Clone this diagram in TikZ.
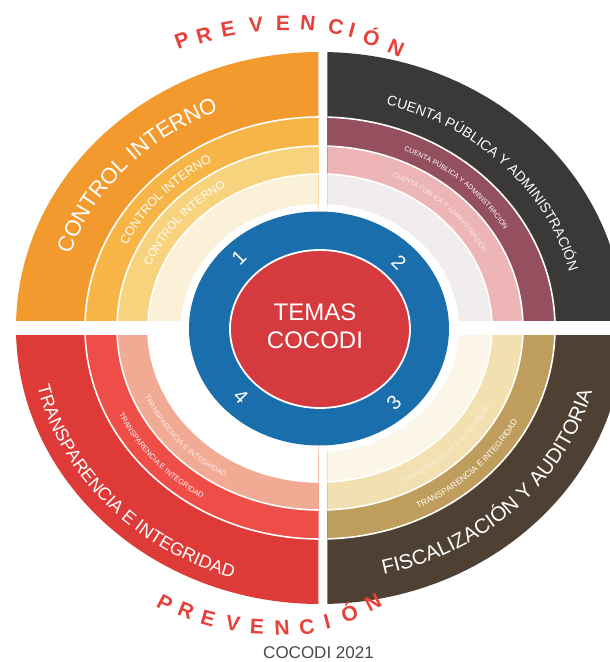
\documentclass[tikz,border=0pt]{standalone}
\usepackage{fontspec}
\setmainfont{Liberation Sans}
\usetikzlibrary{decorations.text}
\definecolor{tlA}{HTML}{F39A2E}
\definecolor{tlB}{HTML}{F6B546}
\definecolor{tlC}{HTML}{F8D37E}
\definecolor{tlD}{HTML}{FBF1D9}
\definecolor{trA}{HTML}{3B3838}
\definecolor{trB}{HTML}{94505E}
\definecolor{trC}{HTML}{EDB5B5}
\definecolor{trD}{HTML}{F1EDED}
\definecolor{blA}{HTML}{DE3B38}
\definecolor{blB}{HTML}{EE4E47}
\definecolor{blC}{HTML}{F1AA94}
\definecolor{blD}{HTML}{FFFFFF}
\definecolor{brA}{HTML}{4E4133}
\definecolor{brB}{HTML}{BF9D5C}
\definecolor{brC}{HTML}{F2E0B0}
\definecolor{brD}{HTML}{FBF6E8}
\definecolor{ringblue}{HTML}{1A6EAC}
\definecolor{corered}{HTML}{D53A3F}
\definecolor{prevred}{HTML}{E8413B}
\definecolor{capgray}{HTML}{4A4A4A}
\newcommand\myquad[6]{%
  \begin{scope}
    \clip #1 rectangle #2;
    \fill[#3] (0,0) ellipse [x radius=304, y radius=276];
    \fill[#4] (0,0) ellipse [x radius=235, y radius=211];
    \fill[#5] (0,0) ellipse [x radius=203, y radius=182];
    \fill[#6] (0,0) ellipse [x radius=172, y radius=154];
    \fill[white] (0,0) ellipse [x radius=139, y radius=124];
    \draw[sepline] (0,0) ellipse [x radius=235, y radius=211];
    \draw[sepline] (0,0) ellipse [x radius=203, y radius=182];
    \draw[sepline] (0,0) ellipse [x radius=172, y radius=154];
  \end{scope}}
\newcommand\arctext[7]{%
  \path[decorate, decoration={text along path, text align=center, text color=#6,
    text={|\fontsize{#5}{#5}\selectfont|#7}}]
    (#1:#3 and #4) arc[start angle=#1, end angle=#2, x radius=#3, y radius=#4];}
\begin{document}
\begin{tikzpicture}[x=1pt,y=1pt,
  sepline/.style={draw=white, line width=1.6},
  num/.style={text=white, font=\fontsize{20}{20}\selectfont, inner sep=0pt},
  prevletter/.style={text=prevred, font=\bfseries\fontsize{21}{21}\selectfont, inner sep=0pt},
  captext/.style={text=capgray, font=\fontsize{17}{17}\selectfont, inner sep=0pt},
  coretext/.style={text=white, font=\fontsize{24}{28}\selectfont, align=center, inner sep=0pt}]
\useasboundingbox (-320,-334) rectangle (290,328);
\fill[white] (-320,-334) rectangle (290,328);
% quadrants
\myquad{(-330,7.5)}{(-1.5,340)}{tlA}{tlB}{tlC}{tlD}
\myquad{(7.5,7.5)}{(330,340)}{trA}{trB}{trC}{trD}
\myquad{(-330,-7.5)}{(-1.5,-340)}{blA}{blB}{blC}{blD}
\myquad{(7.5,-7.5)}{(330,-340)}{brA}{brB}{brC}{brD}
% band texts
\arctext{178}{98}{263}{235}{22}{white}{CONTROL INTERNO}
\arctext{170}{106}{214}{192}{12.5}{white}{CONTROL INTERNO}
\arctext{172}{108}{183}{164}{11.5}{white}{CONTROL INTERNO}
\arctext{86}{2}{257}{231}{14}{white}{CUENTA PÚBLICA Y ADMINISTRACIÓN}
\arctext{85}{11}{214}{193}{7}{white}{CUENTA PÚBLICA Y ADMINISTRACIÓN}
\arctext{85}{7}{183}{165}{6.5}{white!75!trC}{CUENTA PÚBLICA Y ADMINISTRACIÓN}
\arctext{177}{267}{290}{262}{18}{white}{TRANSPARENCIA E INTEGRIDAD}
\arctext{185}{257}{223}{201}{7.5}{white}{TRANSPARENCIA E INTEGRIDAD}
\arctext{185}{257}{191}{172}{7.3}{white!80!blC}{TRANSPARENCIA E INTEGRIDAD}
\arctext{-90}{0}{281}{253}{20.5}{white}{FISCALIZACIÓN Y AUDITORIA}
\arctext{-82}{-8}{223}{201}{8.5}{white}{TRANSPARENCIA E INTEGRIDAD}
\arctext{-82}{-8}{191}{172}{7.5}{white!55!brC}{TRANSPARENCIA E INTEGRIDAD}
% core
\fill[ringblue] (-1,-0.5) ellipse [x radius=130, y radius=117];
\filldraw[fill=corered, draw=white, line width=1.8] (0,-1) ellipse [x radius=90, y radius=79];
\node[coretext] (core) at (-5,2) {TEMAS\\COCODI};
\node[num, rotate=45] (n1) at (-81,70) {1};
\node[num, rotate=-45] (n2) at (79,66) {2};
\node[num, rotate=45] (n3) at (74,-75) {3};
\node[num, rotate=-45] (n4) at (-79,-69) {4};
% PREVENCION top
\foreach \l/\x/\y/\r [count=\i] in {P/-138/288/19.9, R/-116/292/15.4, E/-92/299/10.4,
  V/-64/303/4.6, E/-37/305/-0.8, N/-12/305/-5.8, C/16/301/-11.5, I/32/298/-14.7,
  Ó/52/292/-18.9, N/76/280/-24.2}
  \node[prevletter, rotate=\r] (pt\i) at (\x,\y) {\l};
% PREVENCION bottom
\foreach \l/\x/\y/\r [count=\i] in {P/-155/-275/-27.5, R/-134/-283/-21.8, E/-112/-290/-15.8,
  V/-87/-295/-9.3, E/-63/-299/-3.1, N/-38/-300/3.3, C/-13/-299/9.6, I/7/-294/14.8,
  Ó/29/-284/20.9, N/53/-275/27.5}
  \node[prevletter, rotate=\r] (pb\i) at (\x,\y) {\l};
\node[captext] (caption) at (-1.5,-324.5) {COCODI 2021};
\end{tikzpicture}
\end{document}
